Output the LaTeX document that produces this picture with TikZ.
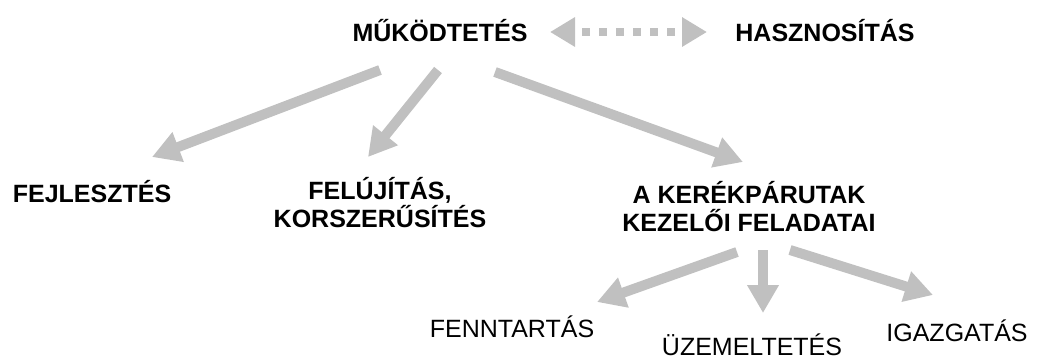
\documentclass[tikz,border=0pt]{standalone}
\usepackage{fontspec}
\setmainfont{Liberation Sans}
\usetikzlibrary{arrows.meta}
\definecolor{arrgray}{RGB}{192,192,192}
\begin{document}
\begin{tikzpicture}[x=1pt,y=-1pt,
  lbl/.style={inner sep=0pt, anchor=base, font=\fontsize{25}{28}\selectfont},
  blbl/.style={inner sep=0pt, anchor=base, font=\fontsize{25}{28}\selectfont\bfseries},
  bigarrow/.style={draw=arrgray, line width=10pt, -{Triangle[length=28pt,width=30pt]}},
  dotarrow/.style={draw=arrgray, line width=8pt, dash pattern=on 8pt off 9pt, dash phase=8pt,
    {Triangle[length=25pt,width=28pt]}-{Triangle[length=25pt,width=28pt]}}]
\useasboundingbox (0,0) rectangle (1040,360);
% texts (multi-line nodes: base = baseline of last line)
\node[blbl] (mukod) at (440,41) {MŰKÖDTETÉS};
\node[blbl] (haszn) at (825,41) {HASZNOSÍTÁS};
\node[blbl] (fejl) at (92,202) {FEJLESZTÉS};
\node[blbl, align=center] (feluj) at (380,227) {FELÚJÍTÁS,\\KORSZERŰSÍTÉS};
\node[blbl, align=center] (kerek) at (749,231) {A KERÉKPÁRUTAK\\KEZELŐI FELADATAI};
\node[lbl] (fennt) at (512,337) {FENNTARTÁS};
\node[lbl] (uzem) at (752,355) {ÜZEMELTETÉS};
\node[lbl] (igazg) at (957,341) {IGAZGATÁS};
% connector end points
\coordinate (d1) at (550,32);
\coordinate (d2) at (707,32);
\coordinate (a1s) at (380,70);
\coordinate (a1e) at (152,157);
\coordinate (a2s) at (438,70);
\coordinate (a2e) at (368,157);
\coordinate (a3s) at (495,72);
\coordinate (a3e) at (743,162);
\coordinate (a4s) at (737,252);
\coordinate (a4e) at (597,302);
\coordinate (a5s) at (763,250);
\coordinate (a5e) at (763,313);
\coordinate (a6s) at (790,250);
\coordinate (a6e) at (933,295);
% connectors
\draw[dotarrow] (d1) -- (d2);
\draw[bigarrow] (a1s) -- (a1e);
\draw[bigarrow] (a2s) -- (a2e);
\draw[bigarrow] (a3s) -- (a3e);
\draw[bigarrow] (a4s) -- (a4e);
\draw[bigarrow] (a5s) -- (a5e);
\draw[bigarrow] (a6s) -- (a6e);
\end{tikzpicture}
\end{document}
